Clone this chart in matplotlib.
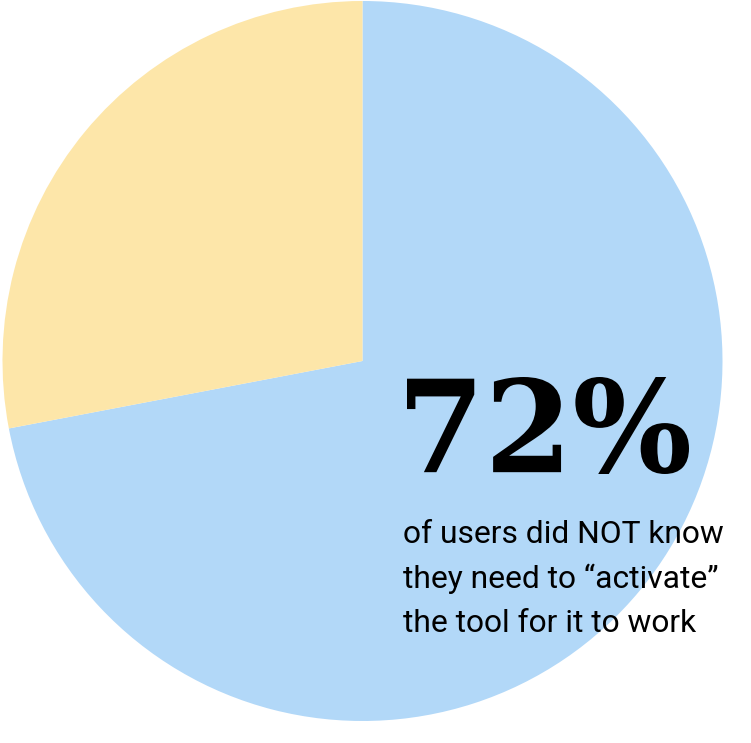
import matplotlib
matplotlib.use("Agg")
import matplotlib.pyplot as plt
from matplotlib.textpath import TextPath
from matplotlib.patches import PathPatch
from matplotlib.font_manager import FontProperties
from matplotlib.transforms import Affine2D

labels = ["Did NOT know", "Knew"]
values = [72, 28]
colors = ["#B2D8F8", "#FDE6A9"]
big_label = "72%"
sub_lines = ["of users did NOT know", "they need to \u201cactivate\u201d", "the tool for it to work"]

W, H = 751, 743
fig = plt.figure(figsize=(W / 100, H / 100), dpi=100)
ax = fig.add_axes([0, 0, 1, 1])
ax.pie(values, colors=colors, startangle=90, counterclock=False,
       center=(362.5, H - 361), radius=360, frame=True,
       wedgeprops=dict(linewidth=0))
ax.set_xlim(0, W)
ax.set_ylim(0, H)
ax.set_aspect("auto")
ax.axis("off")

# Big number: text path scaled to match the target box
fp = FontProperties(family="DejaVu Serif", weight="bold")
tp = TextPath((0, 0), big_label, size=100, prop=fp)
bb = tp.get_extents()
target_w, target_h = 282, 97
sx = target_w / bb.width
sy = target_h / bb.height
tr = Affine2D().translate(-bb.x0, -bb.y0).scale(sx, sy).translate(407, H - 474)
ax.add_patch(PathPatch(tr.transform_path(tp), facecolor="black", edgecolor="none"))

for i, line in enumerate(sub_lines):
    ax.text(403, H - 543 - i * 44.5, line, fontsize=22.9, family="Roboto",
            va="baseline", ha="left", color="black")

fig.savefig("out.png", dpi=100)
